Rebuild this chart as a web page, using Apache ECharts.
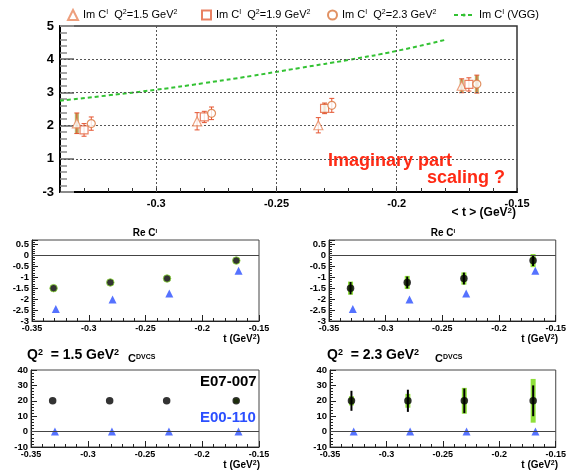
<!DOCTYPE html>
<html>
<head>
<meta charset="utf-8">
<script src="https://cdn.jsdelivr.net/npm/echarts@6/dist/echarts.min.js"></script>
<style>
  html, body { margin: 0; background: #fff; }
  #chart { width: 569px; height: 470px; }
</style>
</head>
<body>
<div id="chart"></div>
<script>
const FONT = '"Liberation Sans", Arial, Helvetica, sans-serif';

// ---- top panel: Im C^I vs <t>, three Q^2 bins + VGG
const tQ15 = [-0.333, -0.283, -0.2326, -0.173];
const imQ15 = [2.07, 2.13, 2.01, 3.2];
const errQ15 = [0.31, 0.26, 0.23, 0.21];
const sysQ15 = [0.31, 0, 0, 0.2];

const tQ19 = [-0.330, -0.280, -0.230, -0.170];
const imQ19 = [1.87, 2.26, 2.52, 3.24];
const errQ19 = [0.19, 0.17, 0.16, 0.2];
const sysQ19 = [0, 0, 0.15, 0];

const tQ23 = [-0.327, -0.277, -0.227, -0.1667];
const imQ23 = [2.06, 2.37, 2.61, 3.25];
const errQ23 = [0.2, 0.19, 0.21, 0.27];
const sysQ23 = [0, 0, 0, 0.27];

const tVgg = [-0.34, -0.32, -0.30, -0.28, -0.26, -0.24, -0.22, -0.20, -0.18];
const imVgg = [2.75, 2.91, 3.08, 3.28, 3.5, 3.74, 3.98, 4.25, 4.58];

const imTTicks = [-0.3, -0.25, -0.2, -0.15];
const imTTickLabels = ['-0.3', '-0.25', '-0.2', '-0.15'];
const imYTickLabels = ['-3', '1', '2', '3', '4', '5'];
const imYGrid = [1, 2, 3, 4];

const legendNames = [
  'Im C^I  Q^2=1.5 GeV^2',
  'Im C^I  Q^2=1.9 GeV^2',
  'Im C^I  Q^2=2.3 GeV^2',
  'Im C^I (VGG)'
];

// ---- lower panels: E07-007 (black) vs E00-110 (blue)
const tE07 = [-0.331, -0.281, -0.231, -0.170];
const tE00 = [-0.329, -0.279, -0.229, -0.168];
const reE07 = [-1.5, -1.24, -1.06, -0.24];
const reE00 = [-2.45, -2.02, -1.74, -0.7];
const reStat23 = [0.28, 0.27, 0.27, 0.25];
const reSys23 = [0.3, 0.3, 0.28, 0.3];
const cE07 = [20, 20, 20, 20];
const cE00 = [0, 0, 0, 0];
const cSys15 = [0, 0, 0, 1.5];
const cStat23 = [6.5, 7.2, 8, 10];
const cSys23 = [3, 4.5, 8.4, 14.2];

const tTickLabels = ['-0.35', '-0.3', '-0.25', '-0.2', '-0.15'];

const C_TRI = '#e8875c', C_SQ = '#e4603a', C_CIR = '#d9763c', C_ERR = '#e5532f';
const C_SYS = '#b9b46c', C_GREEN = '#33c233', C_BLUE = '#2b4fff', C_LIME = '#8fe03a';

function pts(t, v) { return t.map((x, i) => [x, v[i]]); }
function bars(t, v, e) {
  return t.map((x, i) => [x, v[i] - e[i], v[i] + e[i]]).filter((d, i) => e[i] > 0);
}

function barItem(color, lw, cap) {
  return (params, api) => {
    const x = api.value(0);
    const a = api.coord([x, api.value(1)]);
    const b = api.coord([x, api.value(2)]);
    const st = { stroke: color, lineWidth: lw };
    const kids = [{ type: 'line', shape: { x1: a[0], y1: a[1], x2: b[0], y2: b[1] }, style: st }];
    if (cap) {
      kids.push({ type: 'line', shape: { x1: a[0] - cap, y1: a[1], x2: a[0] + cap, y2: a[1] }, style: st });
      kids.push({ type: 'line', shape: { x1: b[0] - cap, y1: b[1], x2: b[0] + cap, y2: b[1] }, style: st });
    }
    return { type: 'group', children: kids };
  };
}
function boxItem(color, w) {
  return (params, api) => {
    const x = api.value(0);
    const a = api.coord([x, api.value(1)]);
    const b = api.coord([x, api.value(2)]);
    return { type: 'rect', shape: { x: a[0] - w / 2, y: b[1], width: w, height: a[1] - b[1] }, style: { fill: color } };
  };
}

function tAxis(g) {
  return {
    type: 'value', gridIndex: g, min: -0.35, max: -0.15, interval: 0.05,
    axisLine: { onZero: false, lineStyle: { color: '#222', width: 1 } },
    axisTick: { inside: true, length: 6, lineStyle: { color: '#222' } },
    minorTick: { show: true, splitNumber: 5, length: 3, lineStyle: { color: '#222' } },
    axisLabel: { formatter: (v, i) => tTickLabels[i] ?? '', fontSize: 9, fontWeight: 'bold',
      color: '#000', margin: 3, fontFamily: FONT },
    splitLine: { show: false }
  };
}
function vAxis(g, min, max, step) {
  return {
    type: 'value', gridIndex: g, min, max, interval: step,
    axisLine: { onZero: false, lineStyle: { color: '#222', width: 1 } },
    axisTick: { inside: true, length: 6, lineStyle: { color: '#222' } },
    minorTick: { show: true, splitNumber: 5, length: 3, lineStyle: { color: '#222' } },
    axisLabel: { showMaxLabel: max % step === 0, fontSize: 9.5, fontWeight: 'bold', color: '#000',
      margin: 3, fontFamily: FONT },
    splitLine: { show: false }
  };
}

const zeroLine = {
  silent: true, symbol: 'none', label: { show: false }, animation: false,
  lineStyle: { color: '#444', width: 1.2, type: 'solid' }, data: [{ yAxis: 0 }]
};

function lowerSeries(g, valsE07, valsE00, stat, sys, ringE07) {
  const out = [];
  if (sys) out.push({ type: 'custom', xAxisIndex: g, yAxisIndex: g, z: 2, renderItem: boxItem(C_LIME, 5), data: bars(tE07, valsE07, sys) });
  if (stat) out.push({ type: 'custom', xAxisIndex: g, yAxisIndex: g, z: 3, renderItem: barItem('#000', 2, 0), data: bars(tE07, valsE07, stat) });
  out.push({ type: 'scatter', xAxisIndex: g, yAxisIndex: g, z: 4, symbol: 'circle', symbolSize: 7.5,
    itemStyle: { color: '#000', borderColor: ringE07 ? C_LIME : '#000', borderWidth: ringE07 ? 1 : 0 },
    data: pts(tE07, valsE07) });
  out.push({ type: 'scatter', xAxisIndex: g, yAxisIndex: g, z: 4, symbol: 'triangle', symbolSize: 8,
    itemStyle: { color: C_BLUE }, data: pts(tE00, valsE00), markLine: zeroLine });
  return out;
}

const supName = s => s.replace(/\^(\w)/g, '{s|$1}');
const legendRich = { s: { fontSize: 7, verticalAlign: 'top', padding: [0, 0, 5, 0], fontFamily: FONT, color: '#000' } };
function legendAt(name, left, w, h) {
  return {
    data: [name], left, top: 9, itemWidth: w, itemHeight: h, padding: 0,
    formatter: supName,
    textStyle: { fontSize: 11, color: '#000', fontFamily: FONT, rich: legendRich }
  };
}

const hollow = c => ({ color: '#fff', borderColor: c, borderWidth: 1.2 });

function txt(x, y, text, opts) {
  return {
    type: 'text', x, y, silent: true,
    style: Object.assign({ text, fill: '#000', fontFamily: FONT, fontWeight: 'bold', verticalAlign: 'middle' }, opts)
  };
}
const supRich = size => ({ s: { fontSize: size, fontWeight: 'bold', fontFamily: FONT, verticalAlign: 'top', padding: [0, 0, Math.round(size * 0.6), 0] } });

const gridDots = { color: '#555', type: [2, 2], width: 1 };

const chart = echarts.init(document.getElementById('chart'), null, { renderer: 'canvas' });

chart.setOption({
  animation: false,
  backgroundColor: '#fff',
  textStyle: { fontFamily: FONT },
  grid: [
    { left: 60, top: 26, width: 457, height: 166, show: true, borderColor: '#333', borderWidth: 1.5, backgroundColor: 'transparent' },
    { left: 32, top: 240, width: 227, height: 81, show: true, borderColor: '#444', borderWidth: 1 },
    { left: 329, top: 240, width: 229, height: 81, show: true, borderColor: '#444', borderWidth: 1 },
    { left: 31, top: 370, width: 228, height: 77, show: true, borderColor: '#444', borderWidth: 1 },
    { left: 330, top: 370, width: 228, height: 77, show: true, borderColor: '#444', borderWidth: 1 }
  ],
  legend: [
    legendAt(legendNames[0], 67, 10, 10),
    legendAt(legendNames[1], 201, 9, 9),
    legendAt(legendNames[2], 327, 9, 9),
    legendAt(legendNames[3], 453, 20, 4)
  ],
  xAxis: [
    {
      type: 'value', gridIndex: 0, min: -0.34, max: -0.15, interval: 0.01,
      axisLine: { onZero: false, lineStyle: { color: '#000', width: 2 } },
      axisTick: { inside: true, length: 4, lineStyle: { color: '#333' } },
      axisLabel: {
        formatter: v => { const k = imTTicks.findIndex(x => Math.abs(x - v) < 1e-6); return k < 0 ? '' : imTTickLabels[k]; },
        fontSize: 11, fontWeight: 'bold', color: '#000', margin: 6, fontFamily: FONT, showMinLabel: true, showMaxLabel: true
      },
      splitLine: { show: false }
    },
    tAxis(1), tAxis(2), tAxis(3), tAxis(4)
  ],
  yAxis: [
    {
      type: 'value', gridIndex: 0, min: 0, max: 5, interval: 1,
      axisLine: { onZero: false, lineStyle: { color: '#000', width: 2 } },
      axisTick: { inside: true, length: 14, lineStyle: { color: '#8a8a8a', width: 2 } },
      minorTick: { show: true, splitNumber: 5, length: 7, lineStyle: { color: '#8a8a8a', width: 1.5 } },
      axisLabel: { formatter: (v, i) => imYTickLabels[i] ?? '', fontSize: 13, fontWeight: 'bold', color: '#000', margin: 6, fontFamily: FONT },
      splitLine: { show: false }
    },
    vAxis(1, -3, 0.7, 0.5), vAxis(2, -3, 0.7, 0.5), vAxis(3, -10, 40, 10), vAxis(4, -10, 40, 10)
  ],
  series: [
    // top panel: dotted grid lines at the major ticks
    { type: 'line', xAxisIndex: 0, yAxisIndex: 0, z: 1, data: [], silent: true,
      markLine: { silent: true, symbol: 'none', label: { show: false }, animation: false, lineStyle: gridDots,
        data: imTTicks.slice(0, 3).map(x => ({ xAxis: x })).concat(imYGrid.map(y => ({ yAxis: y }))) } },
    { name: legendNames[3], type: 'line', xAxisIndex: 0, yAxisIndex: 0, z: 2, smooth: true, symbol: 'none',
      lineStyle: { color: C_GREEN, width: 2, type: [4, 3] }, itemStyle: { color: C_GREEN },
      data: pts(tVgg, imVgg) },
    { type: 'custom', xAxisIndex: 0, yAxisIndex: 0, z: 3, renderItem: boxItem(C_SYS, 4), data: bars(tQ15, imQ15, sysQ15) },
    { type: 'custom', xAxisIndex: 0, yAxisIndex: 0, z: 3, renderItem: boxItem(C_SYS, 4), data: bars(tQ19, imQ19, sysQ19) },
    { type: 'custom', xAxisIndex: 0, yAxisIndex: 0, z: 3, renderItem: boxItem(C_SYS, 4), data: bars(tQ23, imQ23, sysQ23) },
    { type: 'custom', xAxisIndex: 0, yAxisIndex: 0, z: 4, renderItem: barItem(C_ERR, 1, 2.5), data: bars(tQ15, imQ15, errQ15) },
    { type: 'custom', xAxisIndex: 0, yAxisIndex: 0, z: 4, renderItem: barItem(C_ERR, 1, 2.5), data: bars(tQ19, imQ19, errQ19) },
    { type: 'custom', xAxisIndex: 0, yAxisIndex: 0, z: 4, renderItem: barItem(C_ERR, 1, 2.5), data: bars(tQ23, imQ23, errQ23) },
    { name: legendNames[0], type: 'scatter', xAxisIndex: 0, yAxisIndex: 0, z: 5, symbol: 'triangle', symbolSize: 9,
      itemStyle: hollow(C_TRI), data: pts(tQ15, imQ15) },
    { name: legendNames[1], type: 'scatter', xAxisIndex: 0, yAxisIndex: 0, z: 5, symbol: 'rect', symbolSize: 8,
      itemStyle: hollow(C_SQ), data: pts(tQ19, imQ19) },
    { name: legendNames[2], type: 'scatter', xAxisIndex: 0, yAxisIndex: 0, z: 5, symbol: 'circle', symbolSize: 8,
      itemStyle: hollow(C_CIR), data: pts(tQ23, imQ23) },
    // lower panels
    ...lowerSeries(1, reE07, reE00, null, null, true),
    ...lowerSeries(2, reE07, reE00, reStat23, reSys23, false),
    ...lowerSeries(3, cE07, cE00, null, cSys15, false),
    ...lowerSeries(4, cE07, cE00, cStat23, cSys23, false)
  ],
  graphic: [
    txt(328, 161, 'Imaginary part', { fill: '#ff2a14', fontSize: 18 }),
    txt(427, 178, 'scaling ?', { fill: '#ff2a14', fontSize: 18 }),
    txt(516, 213, '< t > (GeV{s|2})', { fontSize: 12, align: 'right', rich: supRich(8) }),
    txt(145, 233, 'Re C{s|I}', { fontSize: 10, align: 'center', rich: supRich(6) }),
    txt(443, 233, 'Re C{s|I}', { fontSize: 10, align: 'center', rich: supRich(6) }),
    txt(260, 339, 't (GeV{s|2})', { fontSize: 10, align: 'right', rich: supRich(7) }),
    txt(558, 339, 't (GeV{s|2})', { fontSize: 10, align: 'right', rich: supRich(7) }),
    txt(260, 465, 't (GeV{s|2})', { fontSize: 10, align: 'right', rich: supRich(7) }),
    txt(558, 465, 't (GeV{s|2})', { fontSize: 10, align: 'right', rich: supRich(7) }),
    txt(27, 355, 'Q{s|2}  = 1.5 GeV{s|2}', { fontSize: 14, rich: supRich(9) }),
    txt(327, 355, 'Q{s|2}  = 2.3 GeV{s|2}', { fontSize: 14, rich: supRich(9) }),
    txt(128, 359, 'C{s|DVCS}', { fontSize: 11, rich: supRich(7) }),
    txt(435, 359, 'C{s|DVCS}', { fontSize: 11, rich: supRich(7) }),
    txt(200, 382, 'E07-007', { fontSize: 15 }),
    txt(200, 418, 'E00-110', { fontSize: 15, fill: C_BLUE })
  ]
});
</script>
</body>
</html>
